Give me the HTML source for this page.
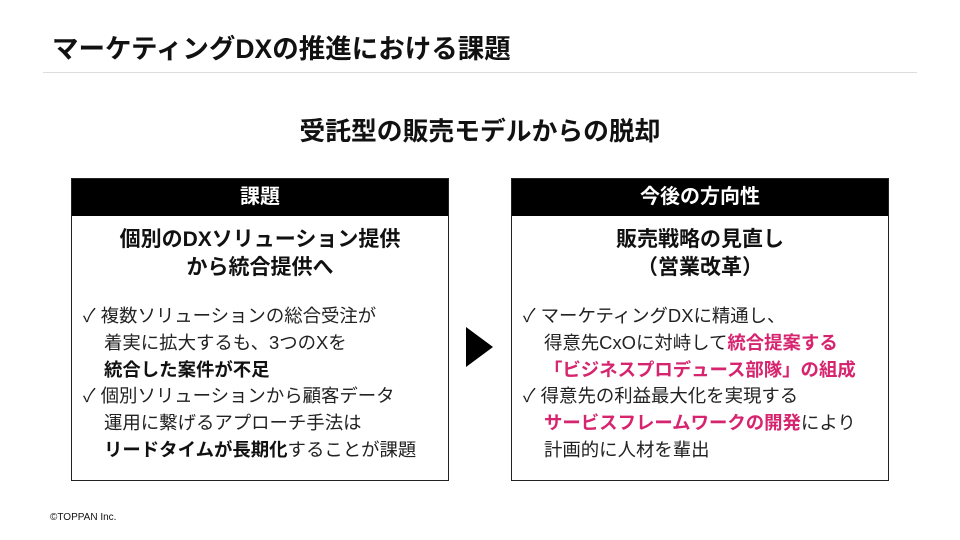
<!DOCTYPE html>
<html><head><meta charset="utf-8"><style>
body{margin:0;width:960px;height:540px;background:#fff;position:relative;overflow:hidden;font-family:"Liberation Sans","Noto Sans CJK JP",sans-serif;color:#111}
.a{position:absolute;white-space:nowrap}
.box{position:absolute;top:178px;width:378px;height:303px;border:1px solid #222;box-sizing:border-box}
.hd{background:#000;color:#fff;font-weight:bold;font-size:20px;height:37px;line-height:37px;text-align:center}
.h2{font-weight:bold;font-size:21px;text-align:center;line-height:28px;margin-top:10px}
.ls{position:absolute;left:11px;top:124px;font-size:18.4px;line-height:26.8px;color:#222}
.ls div{padding-left:21px;text-indent:-21px}
b{color:#111}
.p{color:#d6246e;font-weight:bold}
</style></head><body>
<div class="a" style="left:52px;top:27px;font-size:26.5px;font-weight:bold">マーケティングDXの推進における課題</div>
<div class="a" style="left:43px;top:72px;width:874px;height:1px;background:#ddd"></div>
<div class="a" style="left:0;width:960px;top:111px;text-align:center;font-size:25.8px;font-weight:bold">受託型の販売モデルからの脱却</div>
<div class="box" style="left:71px">
<div class="hd">課題</div>
<div class="h2">個別のDXソリューション提供<br>から統合提供へ</div>
<div class="ls">
<div>✓ 複数ソリューションの総合受注が<br>着実に拡大するも、3つのXを<br><b>統合した案件が不足</b></div>
<div>✓ 個別ソリューションから顧客データ<br>運用に繋げるアプローチ手法は<br><b>リードタイムが長期化</b>することが課題</div>
</div></div>
<svg class="a" style="left:466px;top:327px" width="28" height="40"><polygon points="0,0 27,20 0,40" fill="#000"/></svg>
<div class="box" style="left:511px">
<div class="hd">今後の方向性</div>
<div class="h2">販売戦略の見直し<br>（営業改革）</div>
<div class="ls">
<div>✓ マーケティングDXに精通し、<br>得意先CxOに対峙して<span class="p">統合提案する</span><br><span class="p">「ビジネスプロデュース部隊」の組成</span></div>
<div>✓ 得意先の利益最大化を実現する<br><span class="p">サービスフレームワークの開発</span>により<br>計画的に人材を輩出</div>
</div></div>
<div class="a" style="left:50px;top:512px;font-size:10px">©TOPPAN Inc.</div>
</body></html>
